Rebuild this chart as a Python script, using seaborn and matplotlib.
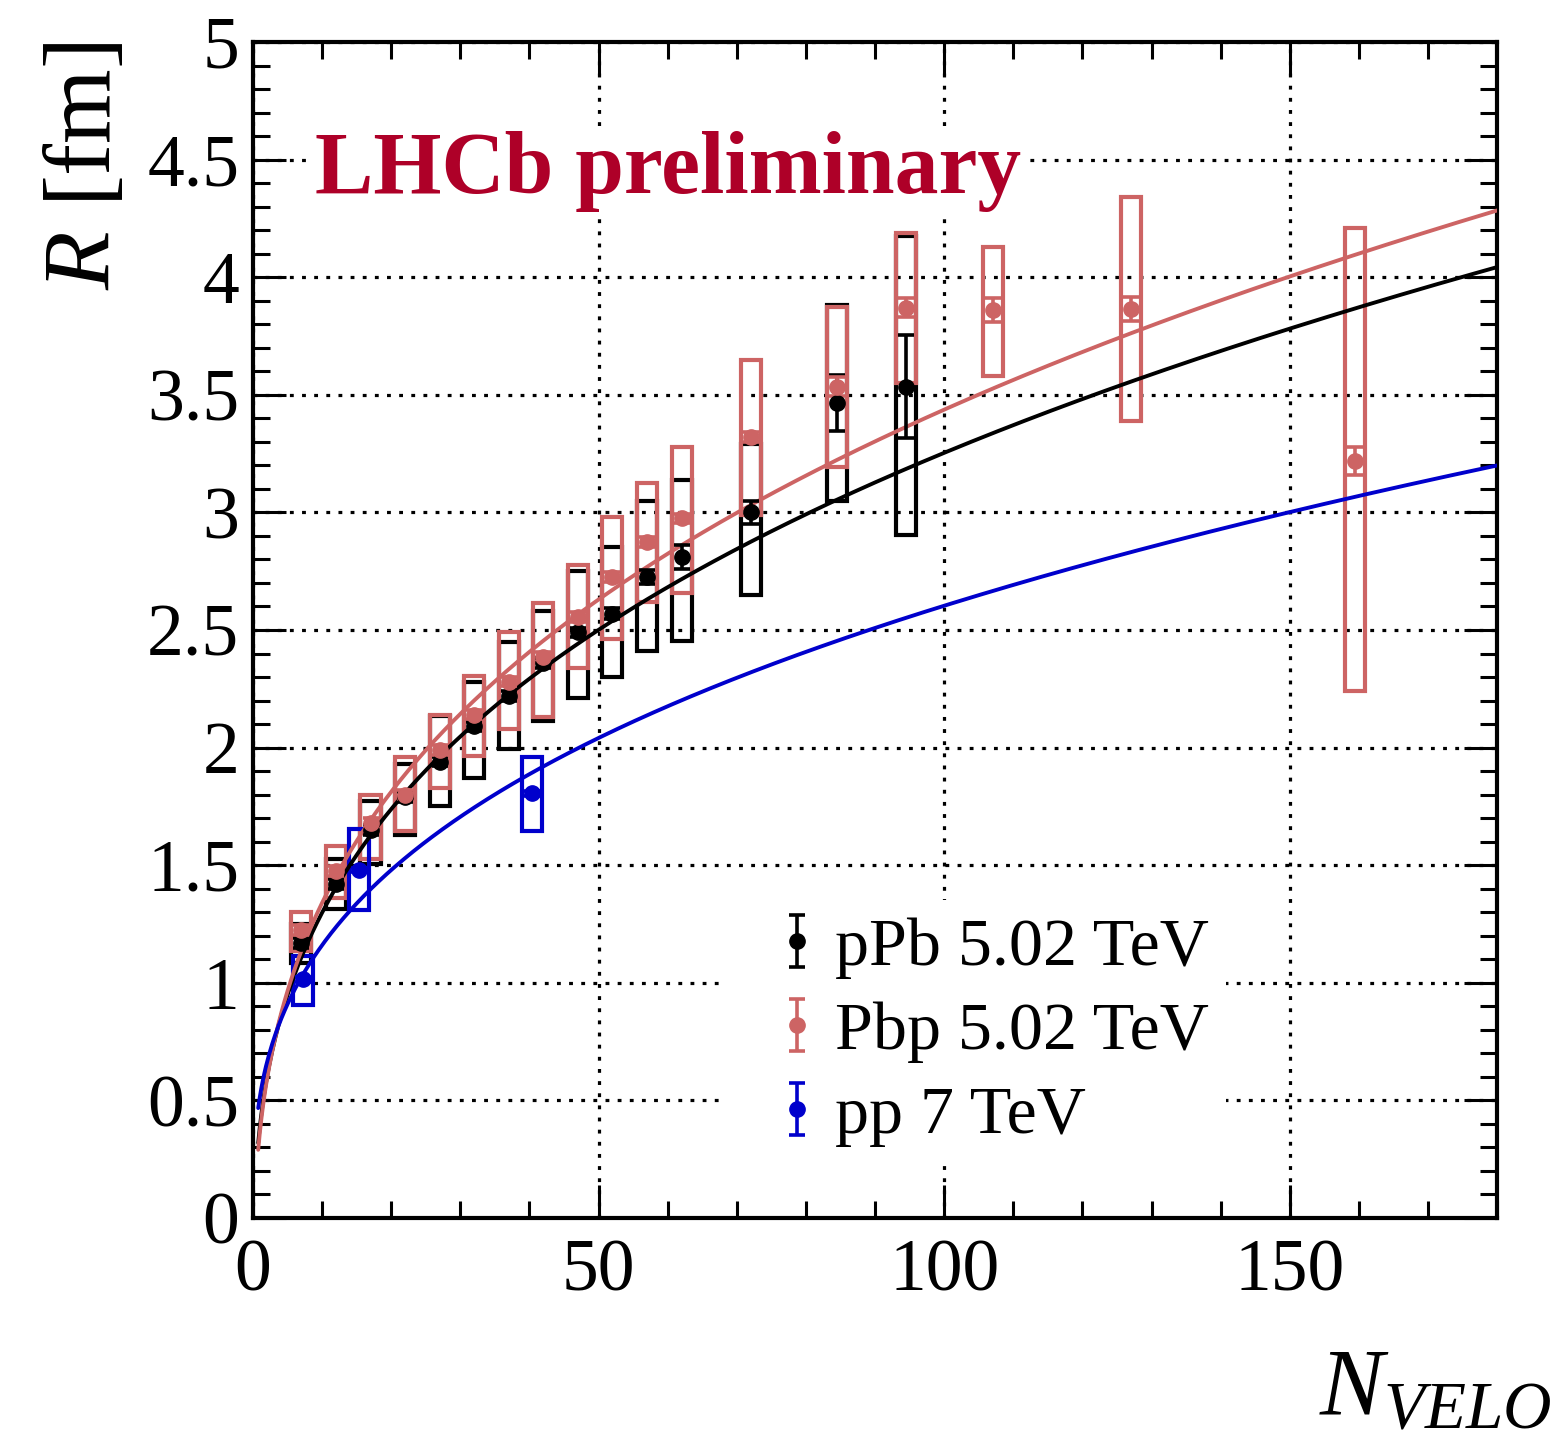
import numpy as np
import pandas as pd
import matplotlib
matplotlib.use("Agg")
import matplotlib.pyplot as plt
from matplotlib.ticker import MultipleLocator, FuncFormatter
from matplotlib.container import ErrorbarContainer
from matplotlib.legend_handler import HandlerErrorbar
import seaborn as sns

# ---------------- data ----------------
# pPb 5.02 TeV: radius vs VELO track multiplicity
n_ppb = [7, 12, 17, 22, 27, 32, 37, 42, 47, 52, 57, 62, 72, 84.5, 94.5]
r_ppb = [1.17, 1.42, 1.65, 1.79, 1.94, 2.09, 2.22, 2.36, 2.49, 2.57, 2.725, 2.81, 3.00, 3.465, 3.535]
stat_ppb = [0.02, 0.02, 0.02, 0.02, 0.02, 0.02, 0.02, 0.02, 0.02, 0.025, 0.03, 0.05, 0.05, 0.12, 0.22]
syst_lo_ppb = [1.085, 1.315, 1.504, 1.628, 1.75, 1.87, 1.995, 2.115, 2.21, 2.30, 2.41, 2.455, 2.65, 3.05, 2.905]
syst_hi_ppb = [1.25, 1.526, 1.774, 1.93, 2.135, 2.28, 2.45, 2.58, 2.75, 2.855, 3.05, 3.137, 3.29, 3.88, 4.175]

# Pbp 5.02 TeV
n_pbp = [7, 12, 17, 22, 27, 32, 37, 42, 47, 52, 57, 62, 72, 84.5, 94.5, 107, 127, 159.5]
r_pbp = [1.225, 1.475, 1.68, 1.80, 1.99, 2.14, 2.28, 2.385, 2.555, 2.725, 2.875, 2.975, 3.32, 3.535,
         3.87, 3.86, 3.865, 3.22]
stat_pbp = [0.02, 0.02, 0.02, 0.02, 0.02, 0.02, 0.02, 0.02, 0.02, 0.02, 0.02, 0.02, 0.02, 0.04,
            0.04, 0.05, 0.05, 0.06]
syst_lo_pbp = [1.135, 1.362, 1.526, 1.646, 1.83, 1.965, 2.08, 2.13, 2.34, 2.46, 2.62, 2.658, 2.99, 3.195,
               3.55, 3.58, 3.39, 2.24]
syst_hi_pbp = [1.30, 1.58, 1.80, 1.96, 2.14, 2.305, 2.49, 2.615, 2.775, 2.98, 3.127, 3.277, 3.65, 3.875,
               4.19, 4.13, 4.34, 4.21]

# pp 7 TeV
n_pp = [7.2, 15.3, 40.4]
r_pp = [1.014, 1.48, 1.806]
stat_pp = [0.01, 0.01, 0.01]
syst_lo_pp = [0.905, 1.31, 1.645]
syst_hi_pp = [1.114, 1.653, 1.96]

# fitted trends, R = a + b * N**p
fit_ppb = (-0.395, 0.786, 1 / 3)
fit_pbp = (-0.476, 0.843, 1 / 3)
fit_pp = (0.0, 0.517, 0.351)
fit_range = (0.75, 180.0)

labels = ["pPb 5.02 TeV", "Pbp 5.02 TeV", "pp 7 TeV"]
colors = {"pPb 5.02 TeV": "#000000", "Pbp 5.02 TeV": "#CD6464", "pp 7 TeV": "#0000CC"}

# ---------------- style ----------------
sns.set_style("ticks")
plt.rcParams["font.family"] = ["Liberation Serif", "DejaVu Serif"]
plt.rcParams["mathtext.fontset"] = "custom"
plt.rcParams["mathtext.rm"] = "Liberation Serif"
plt.rcParams["mathtext.it"] = "Liberation Serif:italic"
plt.rcParams["mathtext.bf"] = "Liberation Serif:bold"
plt.rcParams["text.color"] = "black"
plt.rcParams["axes.labelcolor"] = "black"
plt.rcParams["xtick.color"] = "black"
plt.rcParams["ytick.color"] = "black"

fig = plt.figure(figsize=(15.58, 14.39), dpi=100)
ax = fig.add_axes([0.1624, 0.1536, 0.7985, 0.8172])

# fit curves
n_curve = np.linspace(fit_range[0], fit_range[1], 800)
curve_rows = []
for lab, (a, b, p) in zip(labels, [fit_ppb, fit_pbp, fit_pp]):
    curve_rows.append(pd.DataFrame({"N": n_curve, "R": a + b * n_curve ** p, "system": lab}))
curves = pd.concat(curve_rows, ignore_index=True)
sns.lineplot(data=curves, x="N", y="R", hue="system", palette=colors, linewidth=2.8,
             legend=False, ax=ax, zorder=3, estimator=None, sort=True)

# systematic boxes
box_w = 2.9
series = [
    (labels[0], n_ppb, r_ppb, stat_ppb, syst_lo_ppb, syst_hi_ppb, 2.0),
    (labels[1], n_pbp, r_pbp, stat_pbp, syst_lo_pbp, syst_hi_pbp, 2.1),
    (labels[2], n_pp, r_pp, stat_pp, syst_lo_pp, syst_hi_pp, 2.2),
]
for lab, n, r, st, lo, hi, z in series:
    lo = np.asarray(lo)
    hi = np.asarray(hi)
    ax.bar(n, hi - lo, bottom=lo, width=box_w, fill=False, edgecolor=colors[lab],
           linewidth=3.0, zorder=z)

# points with statistical errors
handles = []
for lab, n, r, st, lo, hi, z in series:
    h = ax.errorbar(n, r, yerr=st, fmt="o", ms=11, color=colors[lab], ecolor=colors[lab],
                    elinewidth=2.6, capsize=6, capthick=2.6, zorder=4 + z / 10, label=lab)
    handles.append(h)

# axes ranges and ticks
ax.set_xlim(0, 180)
ax.set_ylim(0, 5)
ax.xaxis.set_major_locator(MultipleLocator(50))
ax.xaxis.set_minor_locator(MultipleLocator(10))
ax.yaxis.set_major_locator(MultipleLocator(0.5))
ax.yaxis.set_minor_locator(MultipleLocator(0.1))
ax.yaxis.set_major_formatter(FuncFormatter(lambda v, _: f"{v:g}"))
ax.tick_params(which="both", direction="in", top=True, right=True, width=2.2, colors="black")
ax.tick_params(which="major", length=24)
ax.tick_params(which="minor", length=12)
ax.tick_params(axis="x", which="major", labelsize=53, pad=15)
ax.tick_params(axis="y", which="major", labelsize=53, pad=10)
for sp in ax.spines.values():
    sp.set_linewidth(3.0)
    sp.set_color("black")

ax.set_axisbelow(True)
ax.grid(True, which="major", color="black", linestyle=(0, (1.2, 2.6)), linewidth=2.3)

# axis titles
ax.set_xlabel("")
ax.set_ylabel(r"$R$ [fm]", fontsize=69, loc="top", color="black")
ax.yaxis.set_label_coords(-0.099, 1.0)
fig.text(0.996, 0.002, r"$N_{VELO}$", ha="right", va="bottom", fontsize=69, color="black")

# experiment tag
ax.text(9.0, 4.36, "LHCb preliminary", fontsize=63, fontweight="bold", color="#AE0028",
        ha="left", va="baseline", zorder=6,
        bbox=dict(facecolor="white", edgecolor="none", pad=3))

# legend
leg = ax.legend(handles, labels, loc="upper left", bbox_to_anchor=(0.380, 0.2704),
                borderaxespad=0, borderpad=0.25, fontsize=49, handlelength=1.6,
                handletextpad=-0.25, labelspacing=0.33, frameon=True, fancybox=False,
                handler_map={ErrorbarContainer: HandlerErrorbar(yerr_size=0.38)})
leg.get_frame().set_facecolor("white")
leg.get_frame().set_edgecolor("none")
leg.get_frame().set_alpha(1.0)
leg.set_zorder(7)
for t in leg.get_texts():
    t.set_color("black")

fig.savefig("out.png", dpi=100)
